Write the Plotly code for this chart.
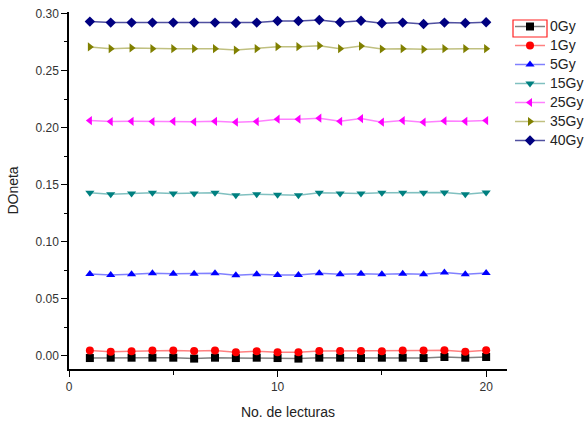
import plotly.graph_objects as go

x_vals = list(range(1, 21))

gy0 = [-0.0018, -0.0015, -0.0015, -0.0015, -0.0015, -0.0023, -0.0015, -0.0018, -0.0015, -0.0018,
       -0.0023, -0.0015, -0.0015, -0.0018, -0.0015, -0.0015, -0.0018, -0.0009, -0.0015, -0.0009]
gy1 = [0.0047, 0.0038, 0.0041, 0.0047, 0.0047, 0.0044, 0.0047, 0.0032, 0.0041, 0.0032,
       0.0032, 0.0044, 0.0044, 0.0044, 0.0041, 0.0047, 0.0047, 0.0050, 0.0038, 0.0050]
gy5 = [0.0718, 0.0709, 0.0715, 0.0724, 0.0721, 0.0721, 0.0724, 0.0706, 0.0715, 0.0709,
       0.0709, 0.0724, 0.0715, 0.0721, 0.0715, 0.0721, 0.0715, 0.0730, 0.0715, 0.0727]
gy15 = [0.1429, 0.1417, 0.1423, 0.1429, 0.1423, 0.1423, 0.1429, 0.1408, 0.1417, 0.1411,
        0.1408, 0.1429, 0.1423, 0.1423, 0.1429, 0.1429, 0.1429, 0.1432, 0.1417, 0.1432]
gy25 = [0.2061, 0.2053, 0.2055, 0.2053, 0.2055, 0.2050, 0.2055, 0.2047, 0.2053, 0.2073,
        0.2073, 0.2082, 0.2055, 0.2079, 0.2047, 0.2061, 0.2047, 0.2058, 0.2055, 0.2061]
gy35 = [0.2706, 0.2691, 0.2697, 0.2691, 0.2691, 0.2691, 0.2691, 0.2679, 0.2691, 0.2708,
        0.2708, 0.2717, 0.2691, 0.2714, 0.2688, 0.2691, 0.2685, 0.2691, 0.2691, 0.2691]
gy40 = [0.2928, 0.2919, 0.2919, 0.2919, 0.2919, 0.2919, 0.2919, 0.2916, 0.2919, 0.2933,
        0.2933, 0.2942, 0.2922, 0.2936, 0.2913, 0.2919, 0.2907, 0.2919, 0.2916, 0.2922]

series_names = ["0Gy", "1Gy", "5Gy", "15Gy", "25Gy", "35Gy", "40Gy"]
series_data = [gy0, gy1, gy5, gy15, gy25, gy35, gy40]
marker_colors = ["#000000", "#FF0000", "#0000FF", "#008080", "#FF00FF", "#808000", "#000080"]
line_colors = ["#808080", "#FF8080", "#8080FF", "#80C0C0", "#FF80FF", "#C0C080", "#5050A0"]
symbols = ["square", "circle", "triangle-up", "triangle-down", "triangle-left", "triangle-right", "diamond"]

fig = go.Figure()
for name, ys, mc, lc, sym in zip(series_names, series_data, marker_colors, line_colors, symbols):
    fig.add_trace(go.Scatter(
        x=x_vals, y=ys, name='<span style="font-size:14px">' + name + '</span>',
        mode="lines+markers",
        line=dict(color=lc, width=1.5),
        marker=dict(symbol=sym, color=mc, size=8, line=dict(width=0)),
    ))

W, H = 587, 421
L, R, T, B = 69, 80, 12, 52
pw, ph = W - L - R, H - T - B

def px_to_paper_x(px):
    return (px - L) / pw

def px_to_paper_y(py):
    return (H - B - py) / ph

fig.update_layout(
    width=W, height=H,
    margin=dict(l=L, r=R, t=T, b=B, autoexpand=False),
    paper_bgcolor="white", plot_bgcolor="white",
    font=dict(family="Liberation Sans, Arial, sans-serif", color="#222222"),
    showlegend=True,
    legend=dict(
        xref="container", yref="container",
        x=510 / W, y=1 - 12 / H, xanchor="left", yanchor="top",
        font=dict(size=12, color="#222222"),
        bgcolor="rgba(0,0,0,0)", borderwidth=0, tracegroupgap=0,
    ),
    xaxis=dict(
        range=[0, 21], showgrid=False, zeroline=False,
        showline=True, linecolor="black", linewidth=1.5,
        ticks="outside", tickcolor="black", ticklen=6, tickwidth=1.2,
        tickvals=[0, 10, 20], ticktext=["0", "10", "20"],
        tickfont=dict(size=12, color="#333333"),
        minor=dict(tickvals=[5, 15], ticks="outside", ticklen=4, tickcolor="black", tickwidth=1.2),
        title=dict(text="No. de lecturas", font=dict(size=14, color="#222222"), standoff=14),
        automargin=False,
    ),
    yaxis=dict(
        range=[-0.0114, 0.3012], showgrid=False, zeroline=False,
        showline=True, linecolor="black", linewidth=1.5,
        ticks="outside", tickcolor="black", ticklen=6, tickwidth=1.2,
        tickvals=[0, 0.05, 0.10, 0.15, 0.20, 0.25, 0.30], tickformat=".2f",
        tickfont=dict(size=12, color="#333333"),
        minor=dict(tickvals=[0.025, 0.075, 0.125, 0.175, 0.225, 0.275], ticks="outside",
                   ticklen=3, tickcolor="black", tickwidth=1.2),
        title=dict(text="DOneta", font=dict(size=14, color="#222222"), standoff=14),
        automargin=False,
    ),
    shapes=[dict(
        type="rect", xref="paper", yref="paper",
        x0=px_to_paper_x(513), x1=px_to_paper_x(547),
        y0=px_to_paper_y(37), y1=px_to_paper_y(20),
        line=dict(color="#FF2020", width=1.2), fillcolor="rgba(0,0,0,0)",
    )],
)

fig.write_html("out.html", config={"displayModeBar": False},
               post_script="document.body.style.margin='0px';")
